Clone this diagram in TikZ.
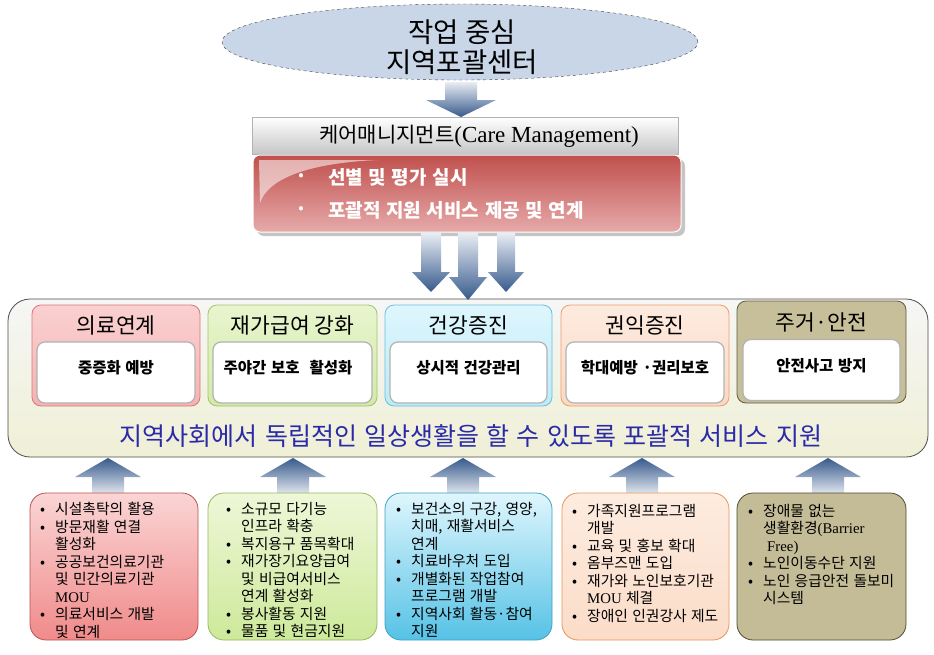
\documentclass[tikz,border=0pt]{standalone}
\usepackage{fontspec}
\setmainfont{Noto Sans CJK KR}
\newfontfamily\krw{Noto Sans CJK KR}[WordSpace=2]
\newfontfamily\krb{Noto Sans CJK KR}[WordSpace=1.3]
\newfontfamily\lser{Liberation Serif}
\usetikzlibrary{shadows,shapes.geometric}
\definecolor{ellfill}{HTML}{C9D6E8}
\definecolor{arrlight}{HTML}{E9EDF4}
\definecolor{arrdark}{HTML}{375A8C}
\definecolor{bluetxt}{HTML}{2A2AA8}
\definecolor{redtop}{HTML}{C0504D}
\definecolor{redbot}{HTML}{E6AAAA}
\newcommand{\dnarr}[6]{\shade[top color=arrlight, bottom color=arrdark] (#1-#5,#2) -- (#1+#5,#2) -- (#1+#5,#3) -- (#1+#6,#3) -- (#1,#4) -- (#1-#6,#3) -- (#1-#5,#3) -- cycle;}
\newcommand{\uparr}[6]{\shade[top color=arrdark, bottom color=white] (#1,#2) -- (#1+#6,#3) -- (#1+#5,#3) -- (#1+#5,#4) -- (#1-#5,#4) -- (#1-#5,#3) -- (#1-#6,#3) -- cycle;}
\newcommand{\bi}[1]{\makebox[15pt][l]{•}#1}
\newcommand{\ci}[1]{\hspace*{15pt}#1}
\begin{document}
\begin{tikzpicture}[x=1pt,y=-1pt,
  colbox/.style={rounded corners=9pt, line width=0.8pt, minimum height=101pt, inner sep=0},
  inbox/.style={draw=gray!60, line width=1.2pt, fill=white, rounded corners=8pt, minimum width=158pt, minimum height=61pt, inner sep=0},
  hdr/.style={font=\fontsize{21.5}{24}\selectfont, inner sep=0},
  intext/.style={font=\krw\bfseries\fontsize{15.5}{17}\selectfont, inner sep=0},
  botbox/.style={rounded corners=16pt, line width=0.8pt, minimum height=147pt, inner sep=0},
  bt/.style={font=\krb\fontsize{14.8}{17.5}\selectfont, align=left, anchor=north west, inner sep=0}]
\useasboundingbox (0,0) rectangle (934,654);
\fill[white] (0,0) rectangle (934,654);

% top ellipse
\node[ellipse, draw=gray!50!black, dashed, fill=ellfill, minimum width=476pt, minimum height=76pt, inner sep=0] (ell) at (460,42) {};
\node[font=\fontsize{27.5}{30}\selectfont, align=center, inner sep=0] (elltxt) at (462,47) {작업 중심\\지역포괄센터};

% arrow ellipse -> care bar
\dnarr{461}{82}{100}{117}{16}{35}

% care management bar
\node[draw=gray!60, top color=white, bottom color=gray!45, minimum width=426pt, minimum height=37pt, inner sep=0] (care) at (465,135.5) {};
\node[font=\fontsize{21}{24}\selectfont, inner sep=0] (caretxt) at (479,136) {케어매니지먼트{\lser\fontsize{23}{24}\selectfont(Care Management)}};

% red box
\node[draw=white, line width=1pt, rounded corners=7pt, top color=redtop, bottom color=redbot, minimum width=428pt, minimum height=77pt, inner sep=0, drop shadow={shadow xshift=4pt, shadow yshift=-4pt, opacity=0.45}] (red) at (467,193.5) {};
\fill[white, opacity=0.55] (259,160) -- (378,160) .. controls (310,163) and (268,178) .. (260,203) -- cycle;
\node[font=\fontsize{16}{18}\selectfont, text=white, inner sep=0] (b1dot) at (301,177) {•};
\node[font=\krw\bfseries\fontsize{19}{21}\selectfont, text=white, anchor=west, inner sep=0] (r1) at (328,177) {선별 및 평가 실시};
\node[font=\fontsize{16}{18}\selectfont, text=white, inner sep=0] (b2dot) at (301,210) {•};
\node[font=\krw\bfseries\fontsize{19}{21}\selectfont, text=white, anchor=west, inner sep=0] (r2) at (328,210) {포괄적 지원 서비스 제공 및 연계};

% main box
\node[draw=gray!60!black, line width=0.8pt, rounded corners=22pt, top color=white!40!gray!12, bottom color=gray!18!olive!12, minimum width=920pt, minimum height=158pt, inner sep=0] (main) at (468,378) {};

% three down arrows
\dnarr{431}{233}{272}{292}{10}{19}
\dnarr{506}{233}{272}{292}{9}{18}
\dnarr{468}{233}{277}{300}{10}{19}

% column boxes
\node[colbox, draw=red!45!white!85!black, top color={rgb,255:red,250;green,208;blue,208}, bottom color={rgb,255:red,245;green,179;blue,179}, minimum width=168pt] (c1) at (116,355.5) {};
\node[colbox, draw={rgb,255:red,163;green,196;blue,106}, top color={rgb,255:red,232;green,245;blue,207}, bottom color={rgb,255:red,210;green,234;blue,166}, minimum width=169pt] (c2) at (292.5,355.5) {};
\node[colbox, draw={rgb,255:red,104;green,191;blue,220}, top color={rgb,255:red,222;green,246;blue,253}, bottom color={rgb,255:red,189;green,235;blue,248}, minimum width=167pt] (c3) at (468.5,355.5) {};
\node[colbox, draw={rgb,255:red,238;green,157;blue,106}, top color={rgb,255:red,253;green,235;blue,223}, bottom color={rgb,255:red,251;green,217;blue,196}, minimum width=168pt] (c4) at (645,355.5) {};
\node[colbox, draw={rgb,255:red,95;green,90;blue,64}, fill={rgb,255:red,198;green,191;blue,154}, minimum width=169pt, minimum height=102pt] (c5) at (821.5,352) {};

\node[hdr] (h1) at (116,325) {의료연계};
\node[hdr] (h2) at (292.5,325) {재가급여 강화};
\node[hdr] (h3) at (468.5,325) {건강증진};
\node[hdr] (h4) at (645,325) {권익증진};
\node[hdr] (h5) at (821.5,322) {주거·안전};

\node[inbox] (i1) at (116,372.5) {};
\node[inbox, minimum width=159pt] (i2) at (292.5,372.5) {};
\node[inbox, minimum width=157pt] (i3) at (468.5,372.5) {};
\node[inbox] (i4) at (645,372.5) {};
\node[inbox, minimum width=157pt] (i5) at (821.5,370) {};

\node[intext] (t1) at (116,368) {중증화 예방};
\node[intext] (t2) at (288,368) {주야간 보호\hspace{10pt}활성화};
\node[intext] (t3) at (468.5,368) {상시적 건강관리};
\node[intext] (t4) at (645,368) {학대예방 ·권리보호};
\node[intext] (t5) at (821.5,366) {안전사고 방지};

\node[font=\krw\fontsize{25}{28}\selectfont, text=bluetxt, inner sep=0] (goal) at (471,436) {지역사회에서 독립적인 일상생활을 할 수 있도록 포괄적 서비스 지원};

% up arrows
\uparr{108}{458}{477}{500}{16}{33}
\uparr{293}{458}{477}{500}{16}{33}
\uparr{463}{458}{477}{500}{16}{33}
\uparr{642}{458}{477}{500}{16}{33}
\uparr{828}{458}{477}{500}{16}{33}

% bottom boxes
\node[botbox, draw={rgb,255:red,184;green,84;blue,80}, top color={rgb,255:red,251;green,213;blue,213}, bottom color={rgb,255:red,240;green,138;blue,138}, minimum width=168pt] (b1) at (114,566.5) {};
\node[botbox, draw={rgb,255:red,152;green,184;blue,96}, top color={rgb,255:red,238;green,247;blue,216}, bottom color={rgb,255:red,205;green,233;blue,154}, minimum width=169pt] (b2) at (292.5,566.5) {};
\node[botbox, draw={rgb,255:red,63;green,160;blue,192}, top color={rgb,255:red,223;green,246;blue,253}, bottom color={rgb,255:red,86;green,194;blue,230}, minimum width=167pt] (b3) at (468.5,566.5) {};
\node[botbox, draw={rgb,255:red,232;green,149;blue,90}, top color={rgb,255:red,253;green,236;blue,224}, bottom color={rgb,255:red,251;green,220;blue,200}, minimum width=167pt] (b4) at (645.5,566.5) {};
\node[botbox, draw={rgb,255:red,79;green,74;blue,51}, fill={rgb,255:red,196;green,188;blue,150}, minimum width=169pt] (b5) at (821.5,566.5) {};

\node[bt] (bt1) at (40,502) {\bi{시설촉탁의 활용}\\\bi{방문재활 연결}\\\ci{활성화}\\\bi{공공보건의료기관}\\\ci{및 민간의료기관}\\\ci{\lser MOU}\\\bi{의료서비스 개발}\\\ci{및 연계}};
\node[bt] (bt2) at (226,502) {\bi{소규모 다기능}\\\ci{인프라 확충}\\\bi{복지용구 품목확대}\\\bi{재가장기요양급여}\\\ci{및 비급여서비스}\\\ci{연계 활성화}\\\bi{봉사활동 지원}\\\bi{물품 및 현금지원}};
\node[bt] (bt3) at (396,502) {\bi{보건소의 구강, 영양,}\\\ci{치매, 재활서비스}\\\ci{연계}\\\bi{치료바우처 도입}\\\bi{개별화된 작업참여}\\\ci{프로그램 개발}\\\bi{지역사회 활동·참여}\\\ci{지원}};
\node[bt] (bt4) at (572,504) {\bi{가족지원프로그램}\\\ci{개발}\\\bi{교육 및 홍보 확대}\\\bi{옴부즈맨 도입}\\\bi{재가와 노인보호기관}\\\ci{{\lser MOU} 체결}\\\bi{장애인 인권강사 제도}};
\node[bt] (bt5) at (748,504) {\bi{장애물 없는}\\\ci{생활환경{\lser(Barrier}}\\\ci{\hspace*{4pt}{\lser Free)}}\\\bi{노인이동수단 지원}\\\bi{노인 응급안전 돌보미}\\\ci{시스템}};
\end{tikzpicture}
\end{document}
